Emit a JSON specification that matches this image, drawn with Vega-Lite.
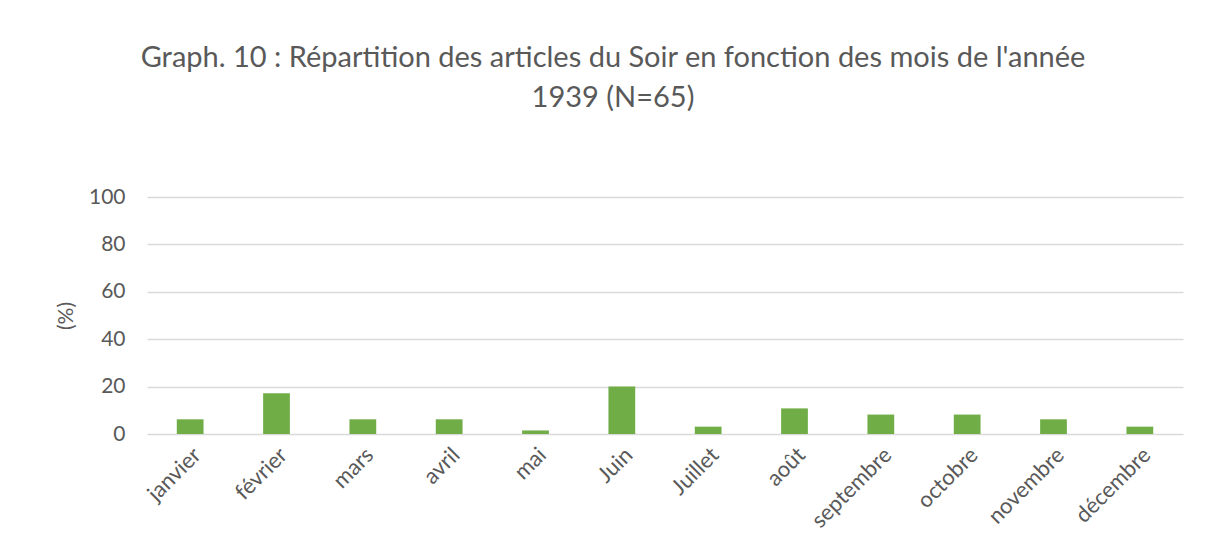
{
  "$schema": "https://vega.github.io/schema/vega-lite/v6.json",
  "width": 1036,
  "height": 237,
  "autosize": {"type": "none"},
  "padding": {"left": 147, "top": 197, "right": 32, "bottom": 122},
  "background": "white",
  "config": {
    "view": {"stroke": null},
    "font": "Lato"
  },
  "title": {
    "text": ["Graph. 10 : Répartition des articles du Soir en fonction des mois de l'année", "1939 (N=65)"],
    "font": "Lato",
    "fontSize": 29,
    "fontWeight": "normal",
    "color": "#595959",
    "lineHeight": 40,
    "anchor": "middle",
    "dx": -52,
    "offset": 73
  },
  "data": {
    "values": [
      {"mois": "janvier", "pct": 6.2},
      {"mois": "février", "pct": 17.2},
      {"mois": "mars", "pct": 6.2},
      {"mois": "avril", "pct": 6.2},
      {"mois": "mai", "pct": 1.5},
      {"mois": "Juin", "pct": 20},
      {"mois": "Juillet", "pct": 3.1},
      {"mois": "août", "pct": 10.8},
      {"mois": "septembre", "pct": 8.2},
      {"mois": "octobre", "pct": 8.2},
      {"mois": "novembre", "pct": 6.2},
      {"mois": "décembre", "pct": 3.1}
    ]
  },
  "mark": {"type": "bar", "color": "#70ad47"},
  "encoding": {
    "x": {
      "field": "mois",
      "type": "nominal",
      "sort": null,
      "scale": {"paddingInner": 0.69, "paddingOuter": 0.345},
      "axis": {
        "title": null,
        "labelAngle": -45,
        "labelFontSize": 22,
        "labelColor": "#595959",
        "labelFont": "Lato",
        "ticks": false,
        "domain": false,
        "labelPadding": 10
      }
    },
    "y": {
      "field": "pct",
      "type": "quantitative",
      "scale": {"domain": [0, 100]},
      "axis": {
        "title": "(%)",
        "titleFont": "Lato",
        "titleFontSize": 21,
        "titleFontWeight": "normal",
        "titleColor": "#595959",
        "titlePadding": 12,
        "values": [0, 20, 40, 60, 80, 100],
        "labelFontSize": 21,
        "labelColor": "#595959",
        "labelFont": "Lato",
        "labelPadding": 22,
        "ticks": false,
        "domain": false,
        "grid": true,
        "gridColor": "#d9d9d9",
        "gridWidth": 1.5
      }
    }
  }
}
